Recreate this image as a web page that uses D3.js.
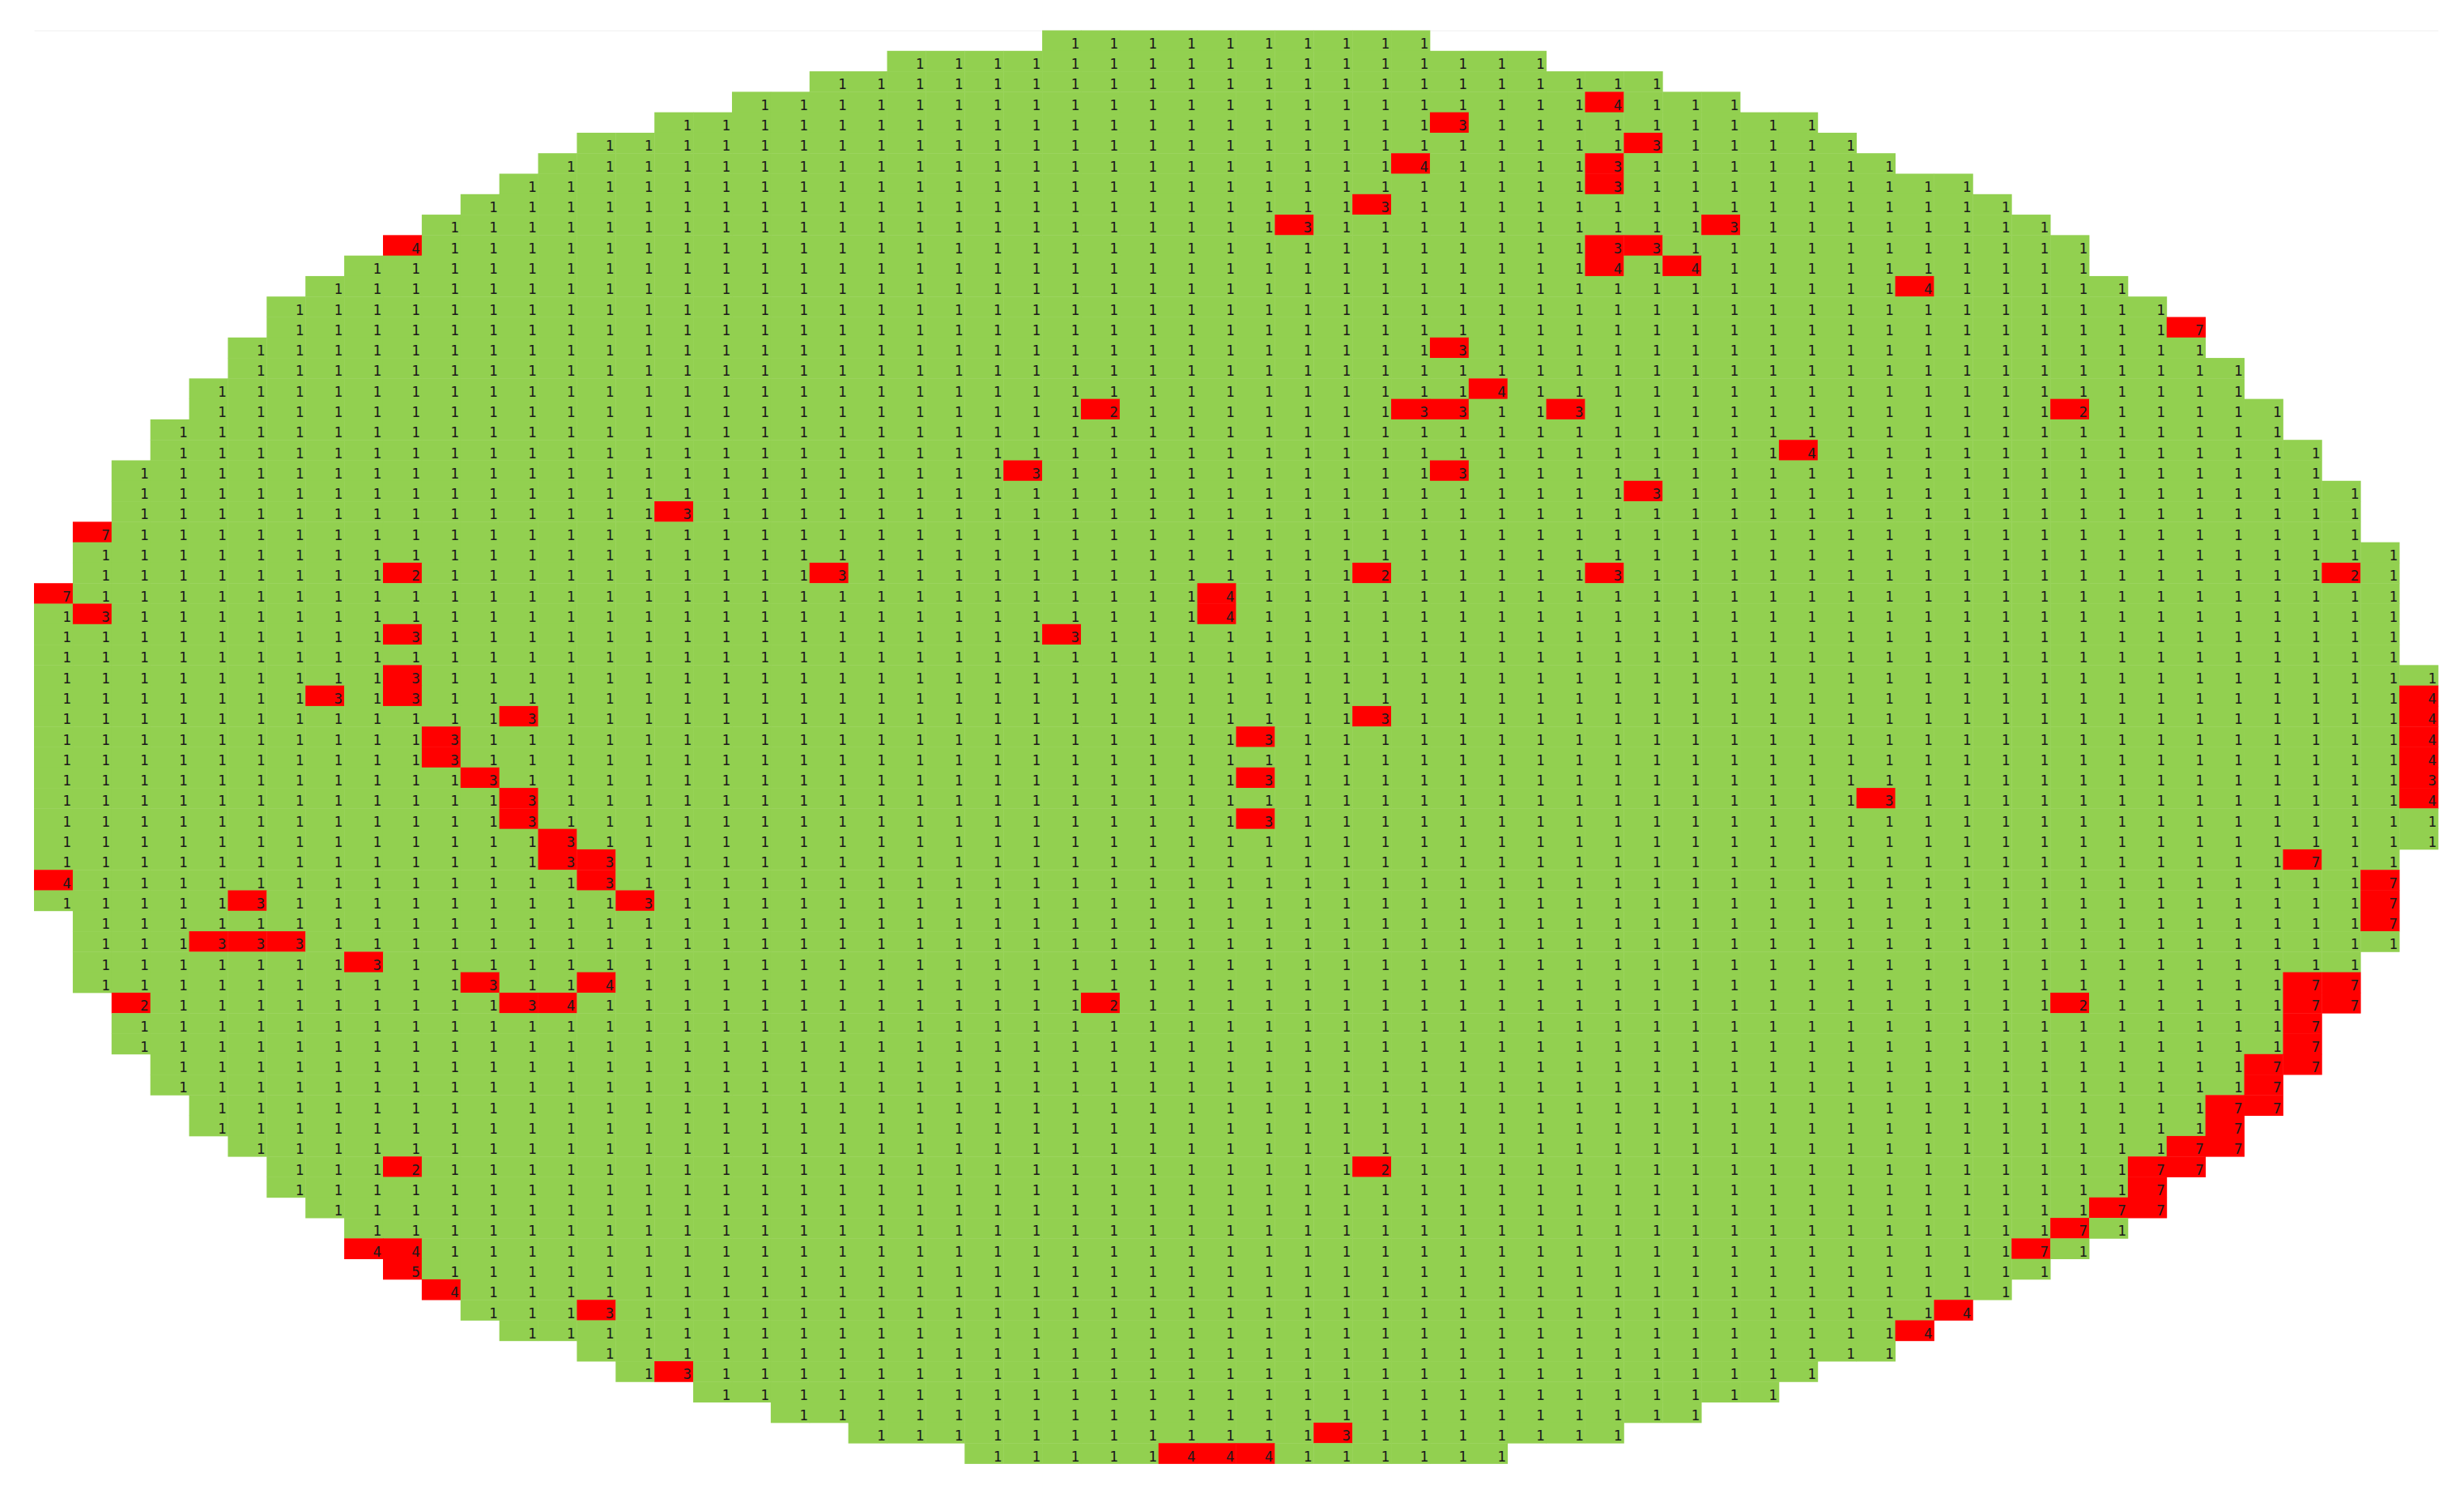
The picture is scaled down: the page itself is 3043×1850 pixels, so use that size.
<!DOCTYPE html>
<html>
<head>
<meta charset="utf-8">
<script src="https://cdn.jsdelivr.net/npm/d3@7"></script>
<style>
    body { margin: 0; background: #fff; }
</style>
</head>
<body>
<script>
const WIDTH = 3043;
const HEIGHT = 1850;

// wafer columns / rows
var cols = d3.range(62);
var rows = d3.range(70);

// first and last die column of each row (row 0 at top)
var rowStart = [26, 22, 20, 18, 16, 14, 13, 12, 11, 10,
                9, 8, 7, 6, 6, 5, 5, 4, 4, 3,
                3, 2, 2, 2, 1, 1, 1, 0, 0, 0,
                0, 0, 0, 0, 0, 0, 0, 0, 0, 0,
                0, 0, 0, 1, 1, 1, 1, 2, 2, 2,
                3, 3, 4, 4, 5, 6, 6, 7, 8, 8,
                9, 10, 11, 12, 14, 15, 17, 19, 21, 24];
var rowEnd = [35, 38, 41, 43, 45, 46, 47, 49, 50, 51,
              52, 52, 53, 54, 55, 55, 56, 56, 57, 57,
              58, 58, 59, 59, 59, 60, 60, 60, 60, 60,
              60, 61, 61, 61, 61, 61, 61, 61, 61, 61,
              60, 60, 60, 60, 60, 59, 59, 59, 58, 58,
              58, 57, 57, 56, 56, 55, 54, 54, 53, 52,
              51, 50, 49, 48, 47, 45, 44, 42, 40, 37];

// every other die is bin 1
var passBin = 1;

// failing dies: [row, col, bin]
var failDies = [
    [3, 40, 4], [4, 36, 3], [5, 41, 3], [6, 35, 4], [6, 40, 3], [7, 40, 3],
    [8, 34, 3], [9, 32, 3], [9, 43, 3], [10, 9, 4], [10, 40, 3], [10, 41, 3],
    [11, 40, 4], [11, 42, 4], [12, 48, 4], [14, 55, 7], [15, 36, 3], [17, 37, 4],
    [18, 27, 2], [18, 35, 3], [18, 36, 3], [18, 39, 3], [18, 52, 2], [20, 45, 4],
    [21, 25, 3], [21, 36, 3], [22, 41, 3], [23, 16, 3], [24, 1, 7], [26, 9, 2],
    [26, 20, 3], [26, 34, 2], [26, 40, 3], [26, 59, 2], [27, 0, 7], [27, 30, 4],
    [28, 1, 3], [28, 30, 4], [29, 9, 3], [29, 26, 3], [31, 9, 3], [32, 7, 3],
    [32, 9, 3], [32, 61, 4], [33, 12, 3], [33, 34, 3], [33, 61, 4], [34, 10, 3],
    [34, 31, 3], [34, 61, 4], [35, 10, 3], [35, 61, 4], [36, 11, 3], [36, 31, 3],
    [36, 61, 3], [37, 12, 3], [37, 47, 3], [37, 61, 4], [38, 12, 3], [38, 31, 3],
    [39, 13, 3], [40, 13, 3], [40, 14, 3], [40, 58, 7], [41, 0, 4], [41, 14, 3],
    [41, 60, 7], [42, 5, 3], [42, 15, 3], [42, 60, 7], [43, 60, 7], [44, 4, 3],
    [44, 5, 3], [44, 6, 3], [45, 8, 3], [46, 11, 3], [46, 14, 4], [46, 58, 7],
    [46, 59, 7], [47, 2, 2], [47, 12, 3], [47, 13, 4], [47, 27, 2], [47, 52, 2],
    [47, 58, 7], [47, 59, 7], [48, 58, 7], [49, 58, 7], [50, 57, 7], [50, 58, 7],
    [51, 57, 7], [52, 56, 7], [52, 57, 7], [53, 56, 7], [54, 55, 7], [54, 56, 7],
    [55, 9, 2], [55, 34, 2], [55, 54, 7], [55, 55, 7], [56, 54, 7], [57, 53, 7],
    [57, 54, 7], [58, 52, 7], [59, 8, 4], [59, 9, 4], [59, 51, 7], [60, 9, 5],
    [61, 10, 4], [62, 14, 3], [62, 49, 4], [63, 48, 4], [65, 16, 3], [68, 33, 3],
    [69, 29, 4], [69, 30, 4], [69, 31, 4]
];

// build the die list
var failMap = {};
failDies.forEach(function(d) {
    failMap[d[0] + '_' + d[1]] = d[2];
});
var dies = [];
rows.forEach(function(r) {
    for (var c = rowStart[r]; c <= rowEnd[r]; c++) {
        var key = r + '_' + c;
        dies.push({
            'row': r,
            'col': c,
            'bin': failMap[key] !== undefined ? failMap[key] : passBin
        });
    }
});

var x = d3.scaleBand()
    .domain(cols)
    .range([42, 3011]);
var y = d3.scaleBand()
    .domain(rows)
    .range([37.5, 1807.5]);

var color = function(bin) {
    return bin === passBin ? '#92d050' : '#ff0000';
};

var svg = d3.select('body')
    .append('svg')
    .attr('width', WIDTH)
    .attr('height', HEIGHT)
    .attr('viewBox', '0 0 ' + WIDTH + ' ' + HEIGHT);

// faint frame line along the top
var topAxis = svg.append('g')
    .attr('transform', 'translate(0,' + y.range()[0] + ')')
    .call(d3.axisTop(x).tickSize(0).tickSizeOuter(0).tickFormat(''));
topAxis.select('.domain').attr('stroke', '#f0f0f0');

var cell = svg.selectAll('g.die')
    .data(dies)
    .enter()
    .append('g')
    .attr('class', 'die');

cell.append('rect')
    .attr('x', function(d) { return x(d.col); })
    .attr('y', function(d) { return y(d.row); })
    .attr('width', x.bandwidth() + 0.4)
    .attr('height', y.bandwidth() + 0.4)
    .attr('fill', function(d) { return color(d.bin); });

cell.append('text')
    .text(function(d) { return d.bin; })
    .attr('x', function(d) { return x(d.col) + x.bandwidth() - 2; })
    .attr('y', function(d) { return y(d.row) + y.bandwidth() - 3; })
    .attr('text-anchor', 'end')
    .attr('font-family', 'DejaVu Sans Mono, monospace')
    .attr('font-size', '17.5px')
    .attr('fill', '#1a1a1a');
</script>
</body>
</html>
